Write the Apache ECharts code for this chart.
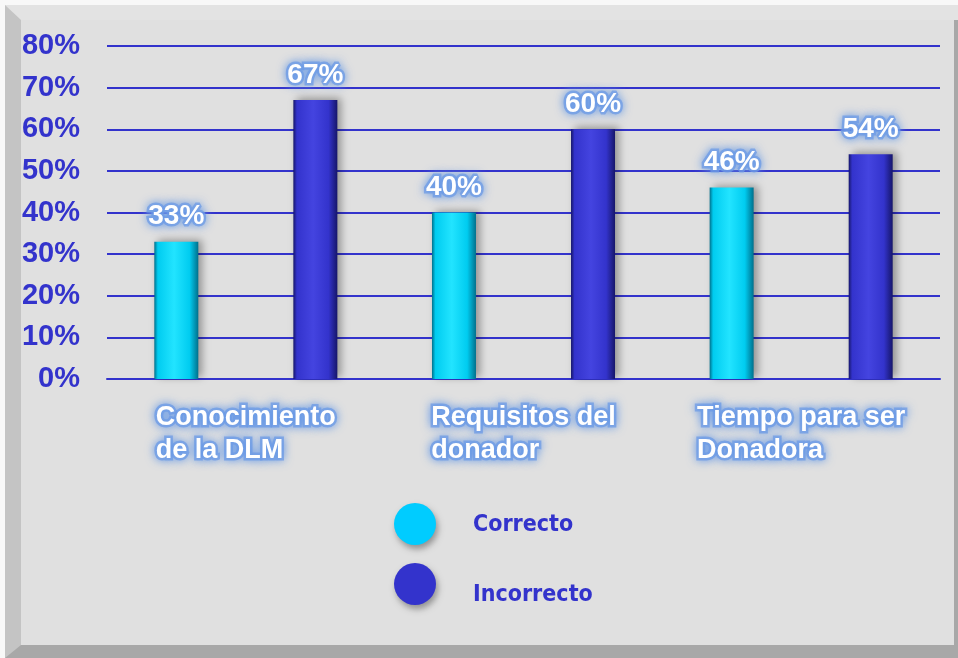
<!DOCTYPE html>
<html>
<head>
<meta charset="utf-8">
<script src="https://cdn.jsdelivr.net/npm/echarts@6/dist/echarts.min.js"></script>
<style>
    html, body { margin: 0; padding: 0; background: #f8f8f8; }
    #chart { width: 958px; height: 658px; }
</style>
</head>
<body>
<div id="chart"></div>
<script>
// datos del gráfico
const categorias = ['Conocimiento\nde la DLM', 'Requisitos del\ndonador', 'Tiempo para ser\nDonadora'];
const correcto = [33, 40, 46];
const incorrecto = [67, 60, 54];
const nombres = ['Correcto', 'Incorrecto'];
const colores = ['#00ccff', '#3333cc'];

const chart = echarts.init(document.getElementById('chart'));

// bisel de las barras
function bevel(light, mid, dark) {
    return new echarts.graphic.LinearGradient(0, 0, 1, 0, [
        { offset: 0, color: dark },
        { offset: 0.08, color: mid },
        { offset: 0.45, color: light },
        { offset: 0.8, color: mid },
        { offset: 1, color: dark }
    ]);
}

// texto blanco con halo azul
const glow = {
    color: '#fff',
    fontFamily: 'Liberation Sans, Arial, sans-serif',
    fontWeight: 'bold',
    textBorderColor: 'rgba(110,155,230,0.75)',
    textBorderWidth: 5,
    textShadowColor: '#6a9be6',
    textShadowBlur: 10
};

const legendFont = {
    color: '#3333cc',
    fontFamily: 'Liberation Sans Narrow, DejaVu Sans Condensed, sans-serif',
    fontWeight: 'bold',
    fontSize: 23
};

const option = {
    backgroundColor: '#f8f8f8',
    graphic: [
        // marco
        { type: 'rect', shape: { x: 5, y: 5, width: 953, height: 653 }, style: { fill: '#a8a8a8' }, z: -10 },
        { type: 'polygon', shape: { points: [[5, 5], [958, 5], [958, 645], [5, 645]] }, style: { fill: '#e3e3e3' }, z: -9 },
        { type: 'polygon', shape: { points: [[5, 5], [21, 20], [21, 645], [5, 658]] }, style: { fill: '#c4c4c4' }, z: -8 },
        { type: 'rect', shape: { x: 21, y: 20, width: 933, height: 625 }, style: { fill: '#e0e0e0' }, z: -7 },
        { type: 'rect', shape: { x: 954, y: 20, width: 4, height: 638 }, style: { fill: '#a8a8a8' }, z: -6 }
    ],
    legend: {
        orient: 'vertical',
        left: 389,
        top: 498,
        icon: 'circle',
        itemWidth: 42,
        itemHeight: 42,
        itemGap: 18,
        data: [
            { name: nombres[0], itemStyle: { color: colores[0] } },
            { name: nombres[1], itemStyle: { color: colores[1] } }
        ],
        itemStyle: { shadowColor: 'rgba(0,0,0,0.35)', shadowBlur: 6, shadowOffsetX: 2, shadowOffsetY: 4 },
        formatter: function (name) {
            return name === nombres[1] ? '{b|' + name + '}' : '{a|' + name + '}';
        },
        textStyle: {
            rich: {
                a: Object.assign({ padding: [2, 0, 0, 32] }, legendFont),
                b: Object.assign({ padding: [22, 0, 0, 32] }, legendFont)
            }
        }
    },
    grid: { left: 107, right: 18, top: 46, bottom: 279 },
    xAxis: {
        type: 'category',
        data: categorias,
        axisLine: { lineStyle: { color: '#3333cc', width: 2 } },
        axisTick: { show: false },
        axisLabel: {
            margin: 22,
            interval: 0,
            formatter: function (v) {
                return v.split('\n').map(s => '{l|' + s + '}').join('\n');
            },
            rich: {
                l: Object.assign({ fontSize: 27, lineHeight: 33, align: 'left' }, glow)
            }
        }
    },
    yAxis: {
        type: 'value',
        min: 0,
        max: 80,
        interval: 10,
        axisLine: { show: false },
        axisTick: { show: false },
        splitLine: { lineStyle: { color: '#3333cc', width: 2 } },
        axisLabel: {
            formatter: '{value}%',
            color: '#3333cc',
            fontFamily: 'Liberation Sans, Arial, sans-serif',
            fontWeight: 'bold',
            fontSize: 29,
            margin: 27
        }
    },
    series: [
        {
            name: nombres[0],
            type: 'bar',
            data: correcto,
            barWidth: 44,
            barGap: '216%',
            itemStyle: {
                color: bevel('#22e4ff', '#00ccf0', '#00708c'),
                shadowColor: 'rgba(0,0,0,0.35)',
                shadowBlur: 8,
                shadowOffsetX: 4,
                shadowOffsetY: -2
            },
            label: Object.assign({ show: true, position: 'top', distance: 11, fontSize: 28, formatter: '{c}%' }, glow)
        },
        {
            name: nombres[1],
            type: 'bar',
            data: incorrecto,
            barWidth: 44,
            itemStyle: {
                color: bevel('#4444e0', '#3333cc', '#16166a'),
                shadowColor: 'rgba(0,0,0,0.35)',
                shadowBlur: 8,
                shadowOffsetX: 4,
                shadowOffsetY: -2
            },
            label: Object.assign({ show: true, position: 'top', distance: 11, fontSize: 28, formatter: '{c}%' }, glow)
        }
    ]
};

chart.setOption(option);
</script>
</body>
</html>
